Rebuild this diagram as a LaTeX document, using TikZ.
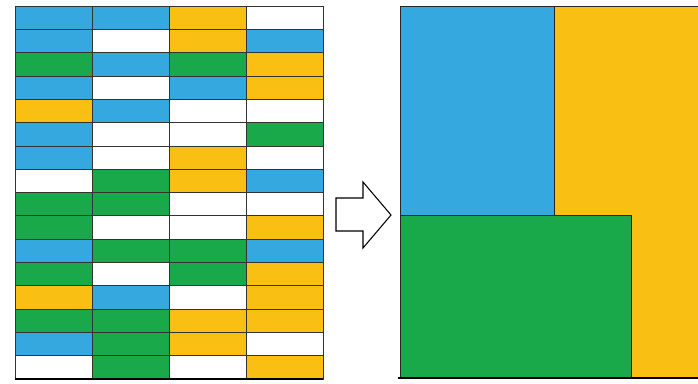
\documentclass[tikz,border=0pt]{standalone}
\usepackage{tikz}
\definecolor{cblue}{HTML}{35A8E0}
\definecolor{cyellow}{HTML}{F9C013}
\definecolor{cgreen}{HTML}{19A84A}
\colorlet{cwhite}{white}

\begin{document}
\begin{tikzpicture}[x=0.03cm,y=-0.03cm,
    cell/.style={draw=black!80,line width=0.6pt},
    block/.style={draw=black!85,line width=0.7pt},
    base/.style={line width=2pt},
    bigarrow/.style={draw=black,fill=white,line width=0.9pt,line join=miter}]
  \useasboundingbox (0,0) rectangle (698,383);

  % left: the scattered cells
  \foreach \row [count=\r from 0] in {
      {cblue,cblue,cyellow,cwhite},
      {cblue,cwhite,cyellow,cblue},
      {cgreen,cblue,cgreen,cyellow},
      {cblue,cwhite,cblue,cyellow},
      {cyellow,cblue,cwhite,cwhite},
      {cblue,cwhite,cwhite,cgreen},
      {cblue,cwhite,cyellow,cwhite},
      {cwhite,cgreen,cyellow,cblue},
      {cgreen,cgreen,cwhite,cwhite},
      {cgreen,cwhite,cwhite,cyellow},
      {cblue,cgreen,cgreen,cblue},
      {cgreen,cwhite,cgreen,cyellow},
      {cyellow,cblue,cwhite,cyellow},
      {cgreen,cgreen,cyellow,cyellow},
      {cblue,cgreen,cyellow,cwhite},
      {cwhite,cgreen,cwhite,cyellow}}{
    \foreach \c [count=\k from 0] in \row {
      \filldraw[cell,fill=\c] (15+77*\k,6+23.3125*\r) rectangle ++(77,23.3125);
    }
  }
  \draw[base] (15,379) -- (323,379);

  % arrow
  \draw[bigarrow] (336,198) -- (363,198) -- (363,182) -- (391,215)
    -- (363,248) -- (363,231) -- (336,231) -- cycle;

  % right: the merged blocks
  \fill[cyellow] (400,6) rectangle (698,378);
  \draw[block] (698,6) -- (400,6) -- (400,378);
  \filldraw[block,fill=cblue] (400,6) rectangle (554,215);
  \filldraw[block,fill=cgreen] (400,215) rectangle (631,378);
  \draw[base] (398,378) -- (698,378);
\end{tikzpicture}
\end{document}
